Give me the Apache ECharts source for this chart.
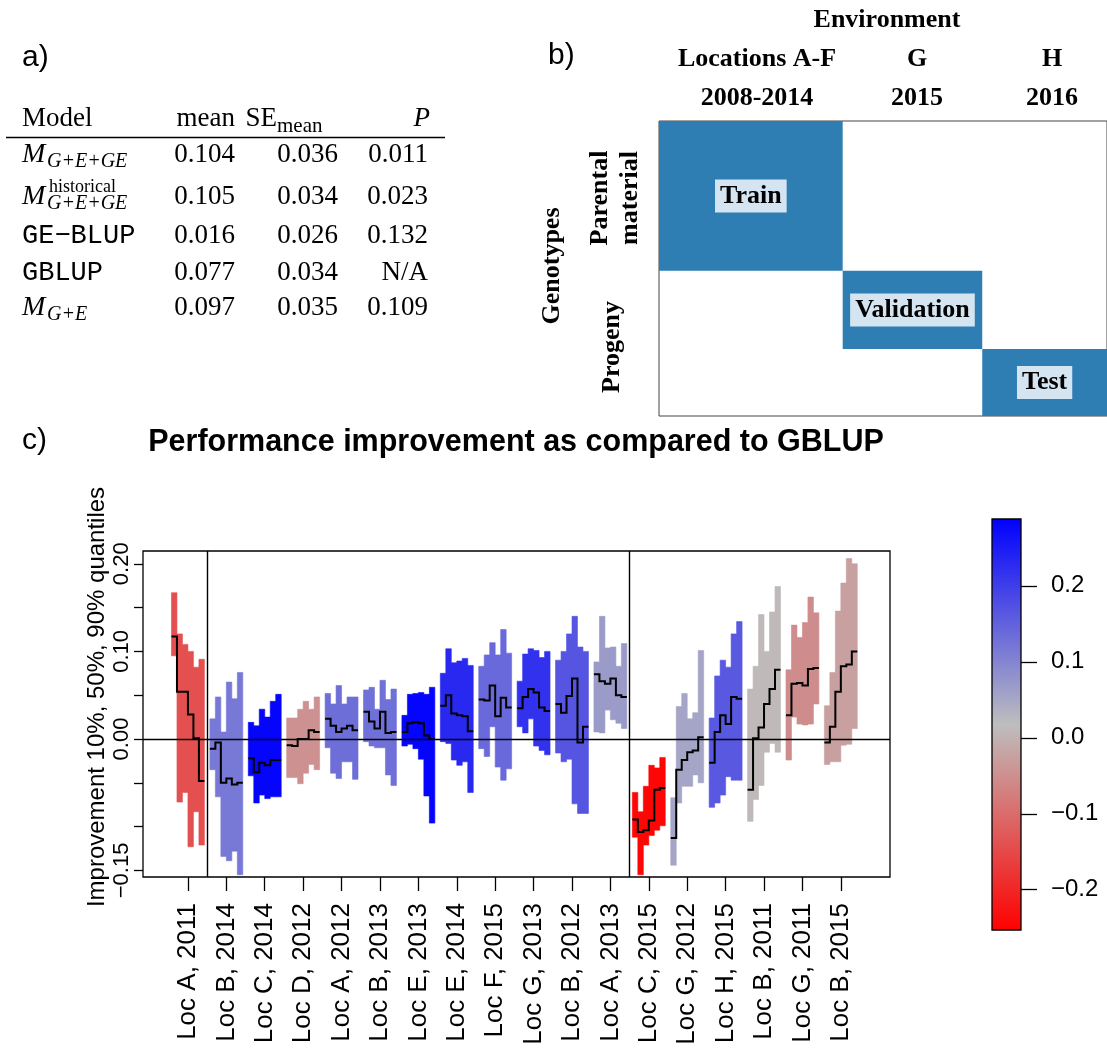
<!DOCTYPE html>
<html><head><meta charset="utf-8">
<script src="https://cdn.jsdelivr.net/npm/echarts@6/dist/echarts.min.js"></script>
<style>html,body{margin:0;padding:0;background:#fff}#c{width:1107px;height:1051px}</style>
</head><body><div id="c"></div><script>
// ---------- data: panel c ----------
const categories = ['Loc A, 2011','Loc B, 2014','Loc C, 2014','Loc D, 2012','Loc A, 2012','Loc B, 2013','Loc E, 2013','Loc E, 2014','Loc F, 2015','Loc G, 2013','Loc B, 2012','Loc A, 2013','Loc C, 2015','Loc G, 2012','Loc H, 2015','Loc B, 2011','Loc G, 2011','Loc B, 2015'];
const colorValues = [-0.139,0.117,0.281,-0.047,0.131,0.128,0.281,0.231,0.138,0.217,0.167,0.067,-0.245,0.053,0.163,0.010,-0.054,-0.025];
const q90 = [
 [0.167,0.120,0.108,0.100,0.082,0.091],
 [0.023,0.048,0.008,0.065,0.046,0.076],
 [0.019,0.015,0.034,0.025,0.043,0.051],
 [0.024,0.024,0.034,0.043,0.034,0.048],
 [0.052,0.040,0.061,0.040,0.048,0.048],
 [0.056,0.059,0.034,0.067,0.045,0.057],
 [0.027,0.051,0.052,0.053,0.051,0.059],
 [0.075,0.103,0.087,0.089,0.092,0.084],
 [0.083,0.096,0.110,0.096,0.125,0.098],
 [0.066,0.097,0.103,0.101,0.093,0.100],
 [0.090,0.100,0.120,0.140,0.105,0.100],
 [0.088,0.140,0.104,0.105,0.083,0.109],
 [-0.061,-0.083,-0.054,-0.030,-0.033,-0.021],
 [-0.067,0.037,0.052,0.023,0.030,0.101],
 [0.024,0.072,0.090,0.082,0.120,0.134],
 [0.057,0.083,0.142,0.100,0.145,0.174],
 [0.079,0.130,0.116,0.133,0.162,0.144],
 [0.038,0.076,0.146,0.178,0.206,0.200]
];
const q50 = [
 [0.117,0.054,0.054,0.028,0.001,-0.048],
 [-0.011,-0.004,-0.050,-0.045,-0.052,-0.050],
 [-0.022,-0.038,-0.027,-0.030,-0.024,-0.024],
 [-0.007,-0.008,0.000,0.000,0.010,0.008],
 [0.023,0.015,0.008,0.012,0.015,0.010],
 [0.031,0.020,0.012,0.031,0.007,0.008],
 [0.008,0.018,0.019,0.018,0.004,0.000],
 [0.038,0.050,0.029,0.027,0.026,0.009],
 [0.045,0.044,0.061,0.026,0.047,0.036],
 [0.035,0.048,0.057,0.053,0.036,0.032],
 [0.040,0.030,0.049,0.069,-0.004,0.014],
 [0.074,0.066,0.063,0.069,0.050,0.048],
 [-0.092,-0.106,-0.104,-0.093,-0.058,-0.056],
 [-0.113,-0.035,-0.024,-0.015,-0.013,0.002],
 [-0.027,0.008,0.027,0.017,0.048,0.046],
 [-0.058,0.001,0.013,0.040,0.057,0.079],
 [0.027,0.063,0.064,0.061,0.080,0.081],
 [-0.004,0.014,0.054,0.083,0.085,0.100]
];
const q10 = [
 [0.095,-0.072,-0.061,-0.123,-0.083,-0.121],
 [-0.035,-0.066,-0.134,-0.139,-0.128,-0.155],
 [-0.042,-0.073,-0.064,-0.068,-0.066,-0.066],
 [-0.044,-0.044,-0.051,-0.039,-0.029,-0.035],
 [-0.010,-0.039,-0.045,-0.026,-0.026,-0.046],
 [-0.003,-0.008,-0.010,-0.010,-0.041,-0.053],
 [-0.008,-0.006,-0.011,-0.023,-0.065,-0.096],
 [-0.003,-0.005,-0.024,-0.030,-0.026,-0.061],
 [-0.011,-0.020,0.014,-0.032,-0.047,-0.034],
 [0.014,0.007,0.023,-0.008,-0.013,-0.018],
 [-0.016,-0.026,-0.023,-0.074,-0.085,-0.085],
 [0.008,0.007,0.033,0.022,0.018,0.012],
 [-0.112,-0.155,-0.121,-0.110,-0.104,-0.099],
 [-0.144,-0.073,-0.054,-0.054,-0.041,-0.050],
 [-0.078,-0.073,-0.064,-0.043,-0.047,-0.047],
 [-0.094,-0.069,-0.053,-0.015,-0.005,-0.015],
 [-0.024,0.025,0.017,0.016,0.017,0.040],
 [-0.029,-0.026,-0.026,-0.007,-0.006,0.012]
];
const yTickValues = [-0.15,-0.10,-0.05,0,0.05,0.10,0.15,0.20];
const yLabelValues = [-0.15,0,0.10,0.20];
const separatorValues = [0.5, 11.5];
const colorbarMin = -0.253, colorbarMax = 0.288;
const colorbarTicks = [-0.2,-0.1,0,0.1,0.2];
const palette = ['#FF0000','#BEBEBE','#0000FF'];

// ---------- data: panel a ----------
const tableModelMain = ['M','M','GE\u2212BLUP','GBLUP','M'];
const tableModelSub = ['G+E+GE','G+E+GE','','','G+E'];
const tableModelSup = ['','historical','','',''];
const tableMean = [0.104,0.105,0.016,0.077,0.097];
const tableSE = [0.036,0.034,0.026,0.034,0.035];
const tableP = [0.011,0.023,0.132,null,0.109];

// ---------- data: panel b ----------
const splitNames = ['Train','Validation','Test'];
const splitEnvStart = [0, 0.410, 0.7215];
const splitEnvEnd = [0.410, 0.7215, 1];
const splitGenoStart = [0, 0.508, 0.773];
const splitGenoEnd = [0.508, 0.773, 1];
const envHeaders = ['Locations A-F','G','H'];
const envYears = ['2008-2014','2015','2016'];

const chart = echarts.init(document.getElementById('c'), null, {renderer:'canvas'});
const SANS = '"Liberation Sans", Arial, sans-serif';
const SERIF = '"Liberation Serif", "Times New Roman", serif';
const MONO = '"Liberation Mono", "Courier New", monospace';
const fmt = (v, d) => (v < 0 ? '\u2212' : '') + Math.abs(v).toFixed(d);

function T(x, y, text, font, align, rot) {
  return {type:'text', x:x, y:y, rotation: rot || 0, silent:true,
    style:{text:text, font:font, fill:'#000', textAlign: align || 'left', textVerticalAlign:'middle'}};
}
const graphics = [];
// panel labels
graphics.push(T(22, 58, 'a)', '30px ' + SANS));
graphics.push(T(548, 56, 'b)', '30px ' + SANS));
graphics.push(T(22, 441, 'c)', '30px ' + SANS));
// table
const rowC = [155, 196.5, 236, 272.5, 307.5];
graphics.push(T(22, 118.5, 'Model', '27px ' + SERIF));
graphics.push(T(235, 118.5, 'mean', '27px ' + SERIF, 'right'));
graphics.push(T(277, 118.5, 'SE', '27px ' + SERIF, 'right'));
graphics.push(T(277, 126, 'mean', '21px ' + SERIF));
graphics.push(T(430, 118.5, 'P', 'italic 27px ' + SERIF, 'right'));
graphics.push({type:'line', silent:true, shape:{x1:6, y1:137.5, x2:445, y2:137.5}, style:{stroke:'#000', lineWidth:1.3}});
for (let i = 0; i < tableModelMain.length; i++) {
  const c = rowC[i];
  if (tableModelSub[i] || tableModelSup[i]) {
    graphics.push(T(22, c, tableModelMain[i], 'italic 28px ' + SERIF));
    if (tableModelSub[i]) graphics.push(T(47, c + 7, tableModelSub[i], 'italic 20px ' + SERIF));
    if (tableModelSup[i]) graphics.push(T(49, c - 9, tableModelSup[i], '18px ' + SERIF));
  } else {
    graphics.push(T(22, c, tableModelMain[i], '27px ' + MONO));
  }
  graphics.push(T(235, c, tableMean[i].toFixed(3), '27px ' + SERIF, 'right'));
  graphics.push(T(338, c, tableSE[i].toFixed(3), '27px ' + SERIF, 'right'));
  graphics.push(T(428, c, tableP[i] === null ? 'N/A' : tableP[i].toFixed(3), '27px ' + SERIF, 'right'));
}
// panel b text
const BS = 'bold 26px ' + SERIF;
graphics.push(T(887, 20, 'Environment', BS, 'center'));
const hdrX = [757, 917, 1052];
for (let i = 0; i < 3; i++) {
  graphics.push(T(hdrX[i], 59, envHeaders[i], BS, 'center'));
  graphics.push(T(hdrX[i], 98.5, envYears[i], BS, 'center'));
}
graphics.push(T(552, 266, 'Genotypes', BS, 'center', Math.PI/2));
graphics.push(T(600, 198, 'Parental', BS, 'center', Math.PI/2));
graphics.push(T(630, 198, 'material', BS, 'center', Math.PI/2));
graphics.push(T(612, 347, 'Progeny', BS, 'center', Math.PI/2));
// panel c text
graphics.push(T(516, 443, 'Performance improvement as compared to GBLUP', 'bold 30.5px ' + SANS, 'center'));
graphics.push(T(97, 697, 'Improvement 10%, 50%, 90% quantiles', '24px ' + SANS, 'center', Math.PI/2));

const option = {
  animation: false,
  backgroundColor: '#fff',
  graphic: graphics,
  visualMap: {type:'continuous', show:false, min:colorbarMin, max:colorbarMax, dimension:1, seriesIndex:0, inRange:{color:palette}},
  grid: [
    {left:143, top:551, width:747, height:326, show:true, borderColor:'#000', borderWidth:1.3, backgroundColor:'transparent'},
    {left:992, top:519, width:29, height:411, show:false},
    {left:659, top:121, width:456, height:295, show:true, borderColor:'#444', borderWidth:1, backgroundColor:'transparent'}
  ],
  xAxis: [
    {gridIndex:0, type:'value', position:'bottom', min:-1.17, max:18.28, splitLine:{show:false}, axisLine:{show:false, onZero:false},
     axisTick:{show:true, customValues: categories.map((c,i)=>i), length:14, lineStyle:{color:'#000', width:1.3}},
     axisLabel:{customValues: categories.map((c,i)=>i), rotate:90, margin:26, color:'#000', fontSize:26, fontFamily:'Liberation Sans',
       formatter: v => categories[Math.round(v)]}},
    {gridIndex:1, type:'value', min:0, max:1, show:false},
    {gridIndex:2, type:'value', min:0, max:1, show:false}
  ],
  yAxis: [
    {gridIndex:0, type:'value', position:'left', min:-0.1575, max:0.2146, splitLine:{show:false}, axisLine:{show:false, onZero:false},
     axisTick:{show:true, customValues:yTickValues, length:9, lineStyle:{color:'#000', width:1.3}},
     axisLabel:{customValues:yLabelValues, rotate:90, margin:10, color:'#000', fontSize:22, fontFamily:'Liberation Sans',
       formatter: v => fmt(v, 2)}},
    {gridIndex:1, type:'value', position:'right', min:colorbarMin, max:colorbarMax, splitLine:{show:false}, axisLine:{show:false, onZero:false},
     axisTick:{show:true, customValues:colorbarTicks, length:16, lineStyle:{color:'#000', width:1.3}},
     axisLabel:{customValues:colorbarTicks, margin:30, color:'#000', fontSize:24, fontFamily:'Liberation Sans',
       formatter: v => fmt(v, 1)}},
    {gridIndex:2, type:'value', min:0, max:1, inverse:true, show:false}
  ],
  series: [
    {type:'custom', xAxisIndex:0, yAxisIndex:0, z:2,
     data: categories.map((c,i)=>[i, colorValues[i]]),
     encode:{x:0},
     renderItem: function(params, api) {
       const k = api.value(0);
       const color = api.visual('color');
       const w = 1/7;
       const top = [], bot = [], med = [];
       for (let j = 0; j < 6; j++) {
         const x0 = k - 3/7 + j*w, x1 = x0 + w;
         top.push(api.coord([x0, q90[k][j]]), api.coord([x1, q90[k][j]]));
         bot.unshift(api.coord([x0, q10[k][j]]));
         bot.unshift(api.coord([x1, q10[k][j]]));
         med.push(api.coord([x0, q50[k][j]]), api.coord([x1, q50[k][j]]));
       }
       return {type:'group', children:[
         {type:'polygon', shape:{points: top.concat(bot)}, style:{fill:color, stroke:color, lineWidth:0.6}},
         {type:'polyline', z2:5, shape:{points: med}, style:{stroke:'#000', lineWidth:2, fill:null}}
       ]};
     },
     markLine:{silent:true, symbol:['none','none'], label:{show:false}, animation:false,
       lineStyle:{color:'#000', type:'solid', width:1.4},
       data:[{yAxis:0}].concat(separatorValues.map(v=>({xAxis:v})))}
    },
    {type:'custom', xAxisIndex:1, yAxisIndex:1, data:[[0]],
     renderItem: function(params, api) {
       const p1 = api.coord([0, colorbarMax]);
       const p2 = api.coord([1, colorbarMin]);
       return {type:'rect', shape:{x:p1[0], y:p1[1], width:p2[0]-p1[0], height:p2[1]-p1[1]},
         style:{fill: new echarts.graphic.LinearGradient(0,0,0,1,[
           {offset:0, color:palette[2]}, {offset:0.5, color:palette[1]}, {offset:1, color:palette[0]}]),
           stroke:'#000', lineWidth:1.3}};
     }},
    {type:'custom', xAxisIndex:2, yAxisIndex:2, data: splitNames.map((n,i)=>[i]),
     renderItem: function(params, api) {
       const i = api.value(0);
       const p1 = api.coord([splitEnvStart[i], splitGenoStart[i]]);
       const p2 = api.coord([splitEnvEnd[i], splitGenoEnd[i]]);
       return {type:'group', children:[
         {type:'rect', shape:{x:p1[0], y:p1[1], width:p2[0]-p1[0], height:p2[1]-p1[1]}, style:{fill:'#2F7EB3'}},
         {type:'text', x:(p1[0]+p2[0])/2, y:(p1[1]+p2[1])/2,
          style:{text:splitNames[i], font:'bold 26px ' + SERIF, fill:'#000', textAlign:'center', textVerticalAlign:'middle',
            backgroundColor:'#D4E5F1', padding:[4,5,3,5]}}
       ]};
     }}
  ]
};
chart.setOption(option);
</script></body></html>
